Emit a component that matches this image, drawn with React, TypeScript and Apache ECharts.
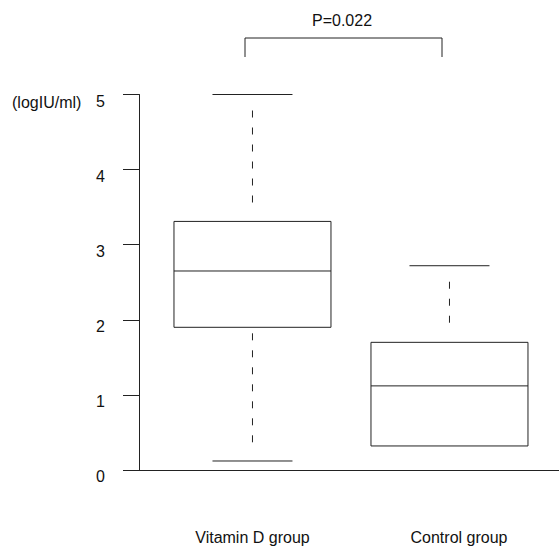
import React, { useEffect, useRef } from "react";
import * as echarts from "echarts";

const categories = ["Vitamin D group", "Control group"];
const categoryX = [1, 2];
// [min, Q1, median, Q3, max] in logIU/ml
const vitaminD = [0.12, 1.9, 2.65, 3.31, 5.0];
const control = [0.32, 0.32, 1.12, 1.7, 2.72];
const yTicks = [0, 1, 2, 3, 4, 5];
const unitLabel = "(logIU/ml)";
const pLabel = "P=0.022";

const INK = "#222";
const FONT = "Liberation Sans, Arial, sans-serif";

export default function App() {
  const ref = useRef<HTMLDivElement>(null);
  useEffect(() => {
    if (!ref.current) return;
    const chart = echarts.init(ref.current, null, { renderer: "svg" });
    const data = [
      [categoryX[0], ...vitaminD],
      [categoryX[1], ...control],
    ];
    const renderItem = (params: any, api: any) => {
      const x = api.value(0);
      const vmin = api.value(1);
      const q1 = api.value(2);
      const med = api.value(3);
      const q3 = api.value(4);
      const vmax = api.value(5);
      const [cx, yMin] = api.coord([x, vmin]);
      const yQ1 = api.coord([x, q1])[1];
      const yMed = api.coord([x, med])[1];
      const yQ3 = api.coord([x, q3])[1];
      const yMax = api.coord([x, vmax])[1];
      const bw = 157;
      const cw = 80;
      const ls = { stroke: INK, lineWidth: 1, fill: null };
      const dash = { stroke: INK, lineWidth: 1, lineDash: [7, 10] };
      const children: any[] = [
        {
          type: "rect",
          shape: { x: cx - bw / 2, y: yQ3, width: bw, height: yQ1 - yQ3 },
          style: { stroke: INK, lineWidth: 1, fill: "none" },
        },
        {
          type: "line",
          shape: { x1: cx - bw / 2, y1: yMed, x2: cx + bw / 2, y2: yMed },
          style: ls,
        },
      ];
      if (yQ3 - yMax > 2) {
        children.push({
          type: "line",
          shape: { x1: cx - cw / 2, y1: yMax, x2: cx + cw / 2, y2: yMax },
          style: ls,
        });
        children.push({
          type: "line",
          shape: { x1: cx, y1: yMax + 16, x2: cx, y2: yQ3 - 14 },
          style: dash,
        });
      }
      if (yMin - yQ1 > 2) {
        children.push({
          type: "line",
          shape: { x1: cx - cw / 2, y1: yMin, x2: cx + cw / 2, y2: yMin },
          style: ls,
        });
        children.push({
          type: "line",
          shape: { x1: cx, y1: yQ1 + 6, x2: cx, y2: yMin - 15 },
          style: dash,
        });
      }
      return { type: "group", children };
    };
    chart.setOption({
      animation: false,
      backgroundColor: "#fff",
      grid: { left: 139, right: 0, top: 94.5, bottom: 83 },
      xAxis: {
        type: "value",
        min: 0.424,
        max: 2.556,
        splitLine: { show: false },
        axisLine: { show: true, lineStyle: { color: INK, width: 1 } },
        axisTick: { show: false },
        axisLabel: {
          customValues: categoryX,
          margin: 59,
          color: "#111",
          fontSize: 16,
          fontFamily: FONT,
          formatter: (v: number) => {
            const i = categoryX.indexOf(Math.round(v));
            if (i < 0) return "";
            return i === 1 ? "{s|" + categories[i] + "}" : "{n|" + categories[i] + "}";
          },
          rich: {
            n: { fontSize: 16, fontFamily: FONT, color: "#111" },
            s: { fontSize: 16, fontFamily: FONT, color: "#111", padding: [0, 0, 0, 19] },
          },
        },
      },
      yAxis: {
        type: "value",
        min: yTicks[0],
        max: yTicks[yTicks.length - 1],
        interval: 1,
        splitLine: { show: false },
        axisLine: { show: true, lineStyle: { color: INK, width: 1 } },
        axisTick: { show: true, length: 16, lineStyle: { color: INK } },
        axisLabel: {
          margin: 34,
          color: "#111",
          fontSize: 16,
          fontFamily: FONT,
          verticalAlign: "top",
          lineHeight: 13,
        },
      },
      graphic: [
        {
          type: "text",
          x: 12,
          y: 94,
          style: { text: unitLabel, fill: "#111", fontSize: 16, fontFamily: FONT },
        },
        {
          type: "polyline",
          shape: { points: [[245, 57], [245, 38], [442, 38], [442, 57]] },
          style: { stroke: INK, lineWidth: 1, fill: null },
        },
        {
          type: "text",
          x: 342,
          y: 20,
          style: {
            text: pLabel,
            fill: "#111",
            fontSize: 16,
            fontFamily: FONT,
            align: "center",
            verticalAlign: "middle",
          },
        },
      ],
      series: [
        {
          type: "custom",
          renderItem,
          data,
          encode: { x: 0, y: [1, 2, 3, 4, 5] },
          clip: false,
        },
      ],
    });
    return () => chart.dispose();
  }, []);
  return (
    <div
      ref={ref}
      style={{ position: "fixed", left: 0, top: 0, width: 559, height: 553, background: "#fff" }}
    />
  );
}
